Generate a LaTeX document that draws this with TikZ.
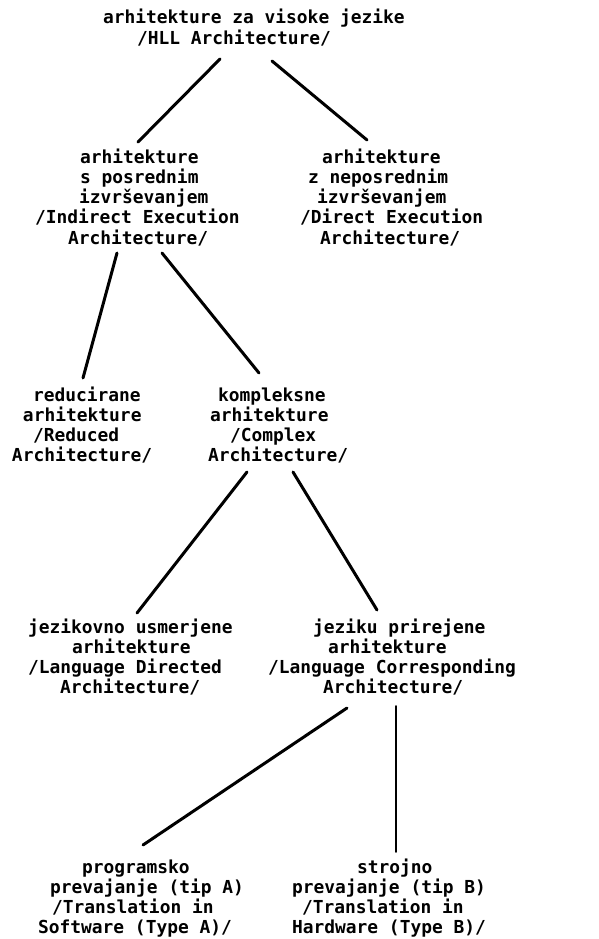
\documentclass[tikz,border=0pt]{standalone}
\usepackage{fontspec}
\newfontfamily\dotfont{DejaVu Sans Mono}
\begin{document}
\begin{tikzpicture}[
  lbl/.style={anchor=north west, inner sep=0pt, outer sep=0pt, align=left,
    font=\dotfont\bfseries\fontsize{17.9pt}{20.3pt}\selectfont},
  conn/.style={line width=3pt, line cap=round},
  thin conn/.style={line width=1.8pt, line cap=round}
]
\newcommand{\ind}[1]{\hspace*{#1pt}}
\newcommand{\fst}{\rule{0pt}{16pt}}
\useasboundingbox (0pt,0pt) rectangle (598pt,-939pt);

\node[lbl] (A) at (103pt,-8pt) {\fst arhitekture za visoke jezike\\\ind{34}/HLL Architecture/};
\node[lbl] (B) at (35pt,-147pt) {\fst\ind{45}arhitekture\\\ind{45}s posrednim\\\ind{44}izvrševanjem\\/Indirect Execution\\\ind{33}Architecture/};
\node[lbl] (C) at (300pt,-147pt) {\fst\ind{22}arhitekture\\\ind{8}z neposrednim\\\ind{17}izvrševanjem\\/Direct Execution\\\ind{20}Architecture/};
\node[lbl] (D) at (12pt,-385pt) {\fst\ind{21}reducirane\\\ind{11}arhitekture\\\ind{21}/Reduced\\Architecture/};
\node[lbl] (E) at (208pt,-385pt) {\fst\ind{10}kompleksne\\\ind{2}arhitekture\\\ind{22}/Complex\\Architecture/};
\node[lbl] (F) at (28pt,-617pt) {\fst jezikovno usmerjene\\\ind{44}arhitekture\\/Language Directed\\\ind{32}Architecture/};
\node[lbl] (G) at (268pt,-617pt) {\fst\ind{45}jeziku prirejene\\\ind{60}arhitekture\\/Language Corresponding\\\ind{55}Architecture/};
\node[lbl] (H) at (38pt,-857pt) {\fst\ind{44}programsko\\\ind{12}prevajanje (tip A)\\\ind{14}/Translation in\\Software (Type A)/};
\node[lbl] (I) at (292pt,-857pt) {\fst\ind{65}strojno\\prevajanje (tip B)\\\ind{10}/Translation in\\Hardware (Type B)/};

\draw[conn] ([shift={(117pt,-51pt)}]A.north west) -- ([shift={(103pt,5pt)}]B.north west);
\draw[conn] ([shift={(169pt,-53pt)}]A.north west) -- ([shift={(67pt,7pt)}]C.north west);
\draw[conn] ([shift={(82pt,-106pt)}]B.north west) -- ([shift={(71pt,7pt)}]D.north west);
\draw[conn] ([shift={(127pt,-106pt)}]B.north west) -- ([shift={(51pt,12pt)}]E.north west);
\draw[conn] ([shift={(39pt,-87pt)}]E.north west) -- ([shift={(109pt,4pt)}]F.north west);
\draw[conn] ([shift={(85pt,-87pt)}]E.north west) -- ([shift={(109pt,7pt)}]G.north west);
\draw[conn] ([shift={(79pt,-91pt)}]G.north west) -- ([shift={(105pt,12pt)}]H.north west);
\draw[thin conn] ([shift={(128pt,-89pt)}]G.north west) -- ([shift={(104pt,5pt)}]I.north west);
\end{tikzpicture}
\end{document}
